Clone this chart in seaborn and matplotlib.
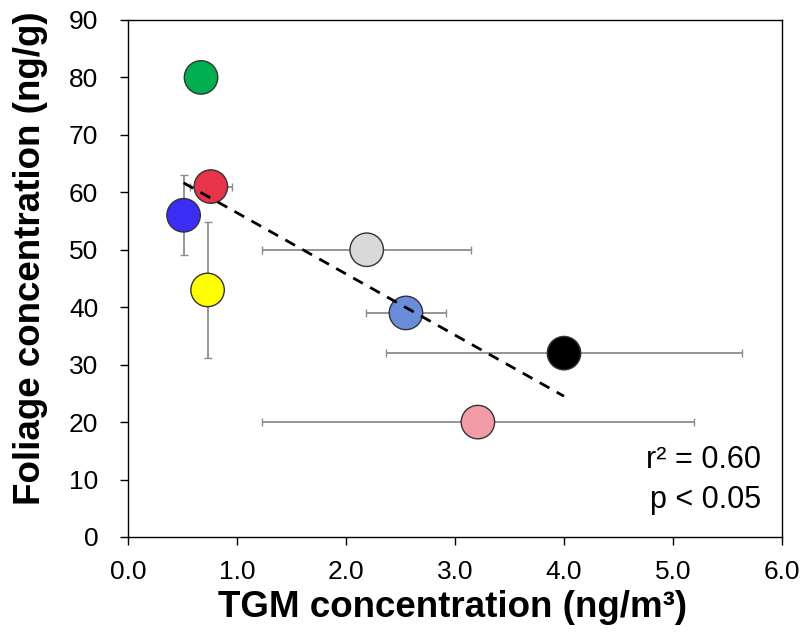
import numpy as np
import pandas as pd
import matplotlib
matplotlib.use('Agg')
import matplotlib.pyplot as plt
import seaborn as sns
from matplotlib.ticker import FormatStrFormatter

# data
site = ['green', 'red', 'blue', 'yellow', 'lightgray', 'cornflower', 'black', 'pink']
tgm = [0.67, 0.76, 0.51, 0.73, 2.19, 2.55, 4.00, 3.21]
tgm_err = [0.0, 0.19, 0.0, 0.0, 0.96, 0.37, 1.63, 1.98]
foliage = [80.0, 61.0, 56.0, 43.0, 50.0, 39.0, 32.0, 20.0]
foliage_err = [0.0, 0.0, 7.0, 11.9, 0.0, 0.0, 0.0, 0.0]
colors = ['#00B050', '#E8344A', '#3A2EF5', '#FFFF00', '#D9D9D9', '#6B8DD9', '#000000', '#F29CA7']

df = pd.DataFrame({'site': site, 'TGM': tgm, 'TGM_err': tgm_err,
                   'Foliage': foliage, 'Foliage_err': foliage_err})

sns.set_style('ticks')
plt.rcParams['font.family'] = ['Liberation Sans', 'DejaVu Sans']
plt.rcParams['text.color'] = 'black'
plt.rcParams['axes.labelcolor'] = 'black'

fig = plt.figure(figsize=(8, 6.36), dpi=100)
ax = fig.add_axes([0.16, 0.1557, 0.8175, 0.8129])

# error bars (behind the markers)
ax.errorbar(df['TGM'], df['Foliage'], xerr=df['TGM_err'], yerr=df['Foliage_err'],
            fmt='none', ecolor='#8c8c8c', elinewidth=1.3, capsize=3, capthick=1.0, zorder=1)

sns.scatterplot(data=df, x='TGM', y='Foliage', hue='site', palette=colors, s=580,
                edgecolor='#333333', linewidth=1.0, legend=False, zorder=2, ax=ax)

# regression line
sns.regplot(data=df, x='TGM', y='Foliage', scatter=False, ci=None, truncate=True,
            line_kws={'color': 'black', 'linestyle': (0, (4, 3)), 'linewidth': 2}, ax=ax)
ax.lines[-1].set_zorder(3)

ax.set_xlim(0, 6)
ax.set_ylim(0, 90)
ax.set_xticks(np.arange(0, 6.1, 1))
ax.set_yticks(np.arange(0, 91, 10))
ax.xaxis.set_major_formatter(FormatStrFormatter('%.1f'))
ax.tick_params(direction='out', length=5.5, width=1, labelsize=19, colors='black')
ax.tick_params(axis='x', pad=11)
ax.tick_params(axis='y', pad=16)
for sp in ax.spines.values():
    sp.set_visible(True)
    sp.set_linewidth(1)
    sp.set_color('black')

ax.set_xlabel('TGM concentration (ng/m³)', fontsize=26.5, fontweight='bold', va='center')
ax.set_ylabel('Foliage concentration (ng/g)', fontsize=26.5, fontweight='bold', va='center')
ax.xaxis.set_label_coords(0.496, -0.136)
ax.yaxis.set_label_coords(-0.149, 0.54)

ax.text(0.968, 0.110, 'r² = 0.60\np < 0.05', transform=ax.transAxes, ha='right', va='center',
        fontsize=22, linespacing=1.42)

plt.savefig('out.png', dpi=100)
